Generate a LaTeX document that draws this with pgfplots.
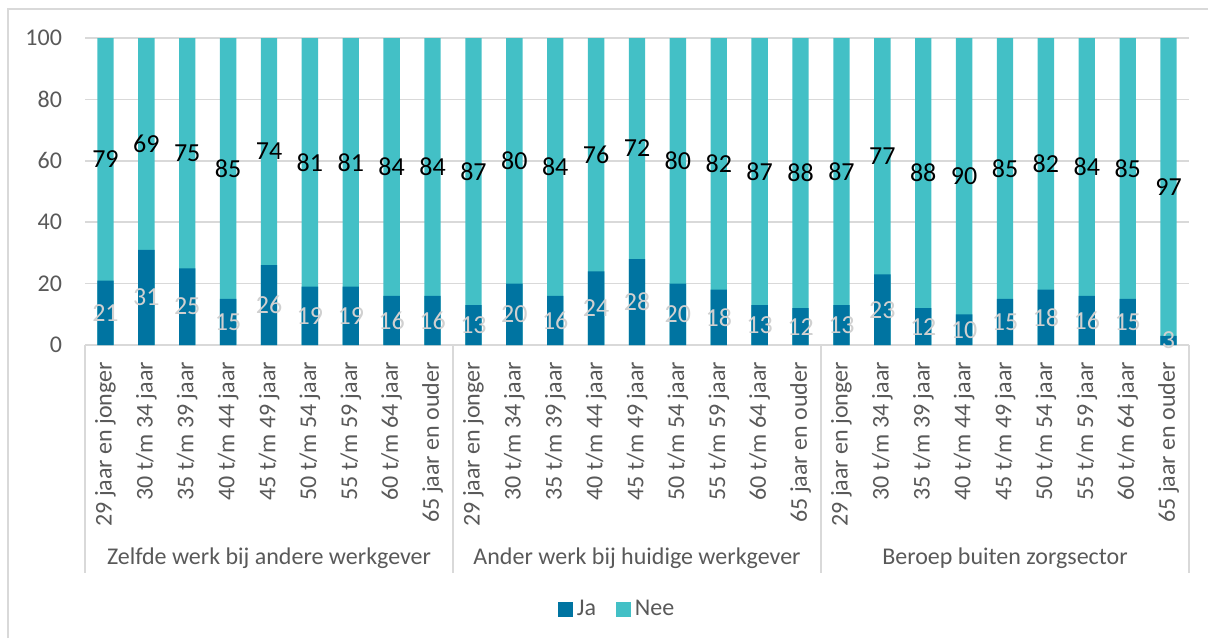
\documentclass[border=0pt]{standalone}
\usepackage{pgfplots}
\pgfplotsset{compat=1.18}
\usepackage{pgfplotstable}
\usepackage{fontspec}
\setmainfont{Carlito}
\definecolor{jacol}{HTML}{0074A1}
\definecolor{neecol}{HTML}{43C0C6}
\definecolor{txtgray}{HTML}{595959}
\definecolor{gridgray}{HTML}{D9D9D9}
\definecolor{lbl}{HTML}{D0D0D0}

\pgfplotstableread{
x ja nee
0 21 79
1 31 69
2 25 75
3 15 85
4 26 74
5 19 81
6 19 81
7 16 84
8 16 84
9 13 87
10 20 80
11 16 84
12 24 76
13 28 72
14 20 80
15 18 82
16 13 87
17 12 88
18 13 87
19 23 77
20 12 88
21 10 90
22 15 85
23 18 82
24 16 84
25 15 85
26 3 97
}\data

\begin{document}
\begin{tikzpicture}
\begin{axis}[
  at={(0,0)}, anchor=south west,
  scale only axis,
  width=552pt, height=153.5pt,
  xmin=-0.5, xmax=26.5,
  ymin=0, ymax=100,
  ytick={0,20,...,100},
  xtick={0,...,26},
  xticklabels={29 jaar en jonger,30 t/m 34 jaar,35 t/m 39 jaar,40 t/m 44 jaar,45 t/m 49 jaar,50 t/m 54 jaar,55 t/m 59 jaar,60 t/m 64 jaar,65 jaar en ouder,
               29 jaar en jonger,30 t/m 34 jaar,35 t/m 39 jaar,40 t/m 44 jaar,45 t/m 49 jaar,50 t/m 54 jaar,55 t/m 59 jaar,60 t/m 64 jaar,65 jaar en ouder,
               29 jaar en jonger,30 t/m 34 jaar,35 t/m 39 jaar,40 t/m 44 jaar,45 t/m 49 jaar,50 t/m 54 jaar,55 t/m 59 jaar,60 t/m 64 jaar,65 jaar en ouder},
  xticklabel style={yshift=-5pt, rotate=90, anchor=east, font=\fontsize{12}{14}\selectfont, text=txtgray},
  yticklabel style={font=\fontsize{12}{14}\selectfont, text=txtgray, xshift=-8pt},
  /pgf/number format/assume math mode=true,
  major tick length=0pt,
  axis line style={draw=none},
  ymajorgrids, grid style={gridgray, line width=0.8pt},
  clip=false,
  legend style={at={(axis description cs:0.483,-0.86)}, anchor=center, draw=none, fill=none,
    legend columns=-1, font=\fontsize{12}{14}\selectfont, text=txtgray,
    /tikz/every even column/.append style={column sep=8pt}},
  legend cell align=left,
]
\addplot[ybar, bar width=0.4, bar shift=0pt, fill=neecol, draw=none, forget plot]
  table[x=x, y expr=\thisrow{ja}+\thisrow{nee}] {\data};
\addplot[ybar, bar width=0.4, bar shift=0pt, fill=jacol, draw=none, forget plot]
  table[x=x, y=ja] {\data};
\addplot[draw=none, mark=none, forget plot, nodes near coords, point meta=explicit,
  nodes near coords style={anchor=center, text=lbl, font=\fontsize{13}{15}\selectfont}]
  table[x=x, y expr=\thisrow{ja}/2, meta=ja] {\data};
\addplot[draw=none, mark=none, forget plot, nodes near coords, point meta=explicit,
  nodes near coords style={anchor=center, text=black, font=\fontsize{13}{15}\selectfont}]
  table[x=x, y expr=\thisrow{ja}+\thisrow{nee}/2, meta=nee] {\data};
\addlegendimage{legend image code/.code={\fill[jacol] (0pt,-3.5pt) rectangle (7pt,3.5pt);}}
\addlegendentry{Ja}
\addlegendimage{legend image code/.code={\fill[neecol] (0pt,-3.5pt) rectangle (7pt,3.5pt);}}
\addlegendentry{Nee}
\foreach \s in {-0.5,8.5,17.5,26.5}{
  \edef\tmp{\noexpand\draw[gridgray, line width=0.8pt] (axis cs:\s,0) -- ([yshift=-114pt]axis cs:\s,0);}\tmp
}
\node[font=\fontsize{12}{14}\selectfont, text=txtgray] at ([yshift=-106.5pt]axis cs:4,0) {Zelfde werk bij andere werkgever};
\node[font=\fontsize{12}{14}\selectfont, text=txtgray] at ([yshift=-106.5pt]axis cs:13,0) {Ander werk bij huidige werkgever};
\node[font=\fontsize{12}{14}\selectfont, text=txtgray] at ([yshift=-106.5pt]axis cs:22,0) {Beroep buiten zorgsector};
\end{axis}
\draw[gridgray, line width=0.8pt] (-38.5pt,-146.5pt) -- (-38.5pt,168pt) -- (561.5pt,168pt);
\pgfresetboundingbox
\path[use as bounding box] (-42.5pt,-146.5pt) rectangle (561.5pt,172.5pt);
\end{tikzpicture}
\end{document}
